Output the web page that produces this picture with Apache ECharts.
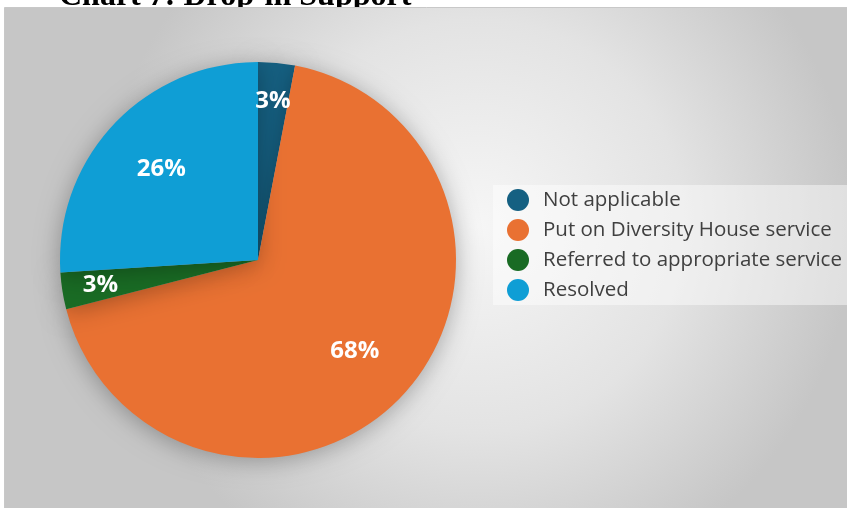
<!DOCTYPE html>
<html>
<head>
<meta charset="utf-8">
<script src="https://cdn.jsdelivr.net/npm/echarts@6/dist/echarts.min.js"></script>
<style>
  html, body { margin: 0; padding: 0; background: #ffffff; }
  #chart { width: 847px; height: 508px; }
</style>
</head>
<body>
<div id="chart"></div>
<script>
// Drop-in support outcomes (percent of cases)
const categories = [
  'Not applicable',
  'Put on Diversity House service',
  'Referred to appropriate service',
  'Resolved'
];
const values = [3, 68, 3, 26];
const colors = ['#156082', '#E97132', '#196B24', '#0F9ED5'];
const titleText = 'Chart 7: Drop-in Support';

// Which slices put their label nearer the rim (the thin ones)
const rimLabels = [true, false, true, false];

const chart = echarts.init(document.getElementById('chart'), null, { renderer: 'canvas' });

const center = [258, 260];
const radius = 198;
const textFont = 'Open Sans';

// Transparent copies of the pie, used only to place the percentage labels
function labelLayer(radiusScale, showFor) {
  return {
    type: 'pie',
    silent: true,
    center: center,
    radius: [0, radius * radiusScale],
    startAngle: 90,
    clockwise: true,
    z: 5,
    emphasis: { disabled: true },
    itemStyle: { color: 'rgba(0,0,0,0)', borderWidth: 0 },
    labelLine: { show: false },
    data: categories.map((name, i) => ({
      name: name,
      value: values[i],
      itemStyle: { color: 'rgba(0,0,0,0)' },
      label: {
        show: showFor[i],
        position: 'inside',
        formatter: '{c}%',
        color: '#ffffff',
        fontSize: 24,
        fontWeight: 'bold',
        fontFamily: textFont
      }
    }))
  };
}

const option = {
  backgroundColor: '#ffffff',
  animation: false,
  graphic: [
    {
      type: 'text',
      z: -1,
      left: 59,
      top: -19,
      style: {
        text: titleText,
        fontFamily: 'Liberation Serif',
        fontWeight: 'bold',
        fontSize: 32,
        fill: '#000000'
      }
    },
    {
      type: 'rect',
      z: 0,
      shape: { x: 4.5, y: 7.5, width: 860, height: 520 },
      style: {
        fill: {
          type: 'radial',
          x: 0.55, y: 0.42, r: 0.72,
          colorStops: [
            { offset: 0, color: '#f6f6f6' },
            { offset: 0.55, color: '#e3e3e3' },
            { offset: 1, color: '#c6c6c6' }
          ]
        },
        stroke: '#c8c8c8',
        lineWidth: 1
      }
    }
  ],
  legend: {
    orient: 'vertical',
    left: 493,
    top: 185,
    padding: [4, 40, 4, 14],
    backgroundColor: 'rgba(255,255,255,0.45)',
    icon: 'circle',
    itemWidth: 22,
    itemHeight: 22,
    itemGap: 8,
    data: categories,
    selectedMode: false,
    textStyle: {
      fontSize: 20.5,
      color: '#404040',
      fontFamily: textFont,
      padding: [0, 0, 0, 9]
    }
  },
  series: [
    {
      type: 'pie',
      name: 'Drop-in Support',
      center: center,
      radius: [0, radius],
      startAngle: 90,
      clockwise: true,
      z: 2,
      emphasis: { disabled: true },
      label: { show: false },
      labelLine: { show: false },
      itemStyle: {
        shadowBlur: 24,
        shadowColor: 'rgba(0,0,0,0.3)',
        shadowOffsetY: 3
      },
      data: categories.map((name, i) => ({
        name: name,
        value: values[i],
        itemStyle: { color: colors[i] }
      }))
    },
    labelLayer(1.31, rimLabels.map(r => !r)),
    labelLayer(1.58, rimLabels)
  ]
};

chart.setOption(option);
</script>
</body>
</html>
